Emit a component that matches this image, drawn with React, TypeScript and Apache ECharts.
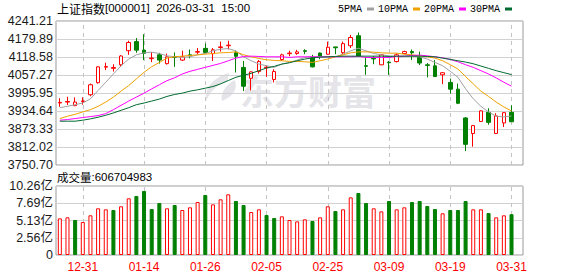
import React, { useEffect, useRef } from 'react';
import * as echarts from 'echarts';

const dates = ['12-26','12-29','12-30','12-31','01-05','01-06','01-07','01-08','01-09','01-12','01-13','01-14','01-15','01-16','01-19','01-20','01-21','01-22','01-23','01-26','01-27','01-28','01-29','01-30','02-02','02-03','02-04','02-05','02-06','02-09','02-10','02-11','02-12','02-13','02-24','02-25','02-26','02-27','03-02','03-03','03-04','03-05','03-06','03-09','03-10','03-11','03-12','03-13','03-16','03-17','03-18','03-19','03-20','03-23','03-24','03-25','03-26','03-27','03-30','03-31'];

const tickDates = ['12-31','01-14','01-26','02-05','02-25','03-09','03-19','03-31'];

const opens = [3962,3965,3953,3967,3990,4031,4084,4080,4092,4140, 4171,4142,4113,4126,4096,4120,4108,4126,4135,4148, 4130,4151,4157,4133,4083,4046,4069,4082,4042,4110, 4130,4130.5,4140,4117,4132,4128,4153,4133,4157,4191, 4089,4114,4092,4101,4103,4130.5,4137,4117,4092,4088.5, 4058,4032,4009,3911,3858,3899,3930,3858,3894,3930];
const closes = [3964,3967,3965,3969,4024,4085,4086,4083,4122,4168, 4142,4131,4115,4108,4119,4117,4119,4123,4137,4134, 4143,4153,4159,4121,4019,4068,4103,4084,4069,4126, 4132,4136,4138,4085,4121,4152,4150,4164,4185,4122, 4087,4112,4126,4099,4126,4137,4133,4098,4090,4052, 4065,4009,3961,3821,3885,3935,3896,3918,3929,3898];
const lows = [3949,3955,3951,3956,3985,4028,4074,4069,4085,4126, 4133,4108,4101,4096,4093,4085,4105,4114,4128,4130, 4105,4137,4144,4066,4003,4005,4062,4051,4032,4105, 4121,4126,4128,4083,4111,4127,4128,4128,4149,4119, 4058,4094,4091,4058,4100,4128,4108,4091,4049,4051, 4026,3994,3958,3798,3813,3897,3888,3856,3880,3897];
const highs = [3978,3983,3981,3981,4028,4087,4099,4094,4125,4174, 4183,4196,4135,4133,4130,4134,4140,4144,4149,4165, 4149,4171,4174,4140,4105,4069,4108,4089,4077,4130, 4140,4143,4145,4126,4134,4171,4153,4171,4194,4202, 4117,4122,4128,4105,4131,4140,4144,4137,4098,4108, 4067,4045,4028,3914,3886,3937,3944,3927,3931,3954];

const ma5 = [3946,3950.5,3956,3962,3976,4004.5,4032.6,4060.8,4088.9,4111.4, 4126,4132.8,4135,4130.5,4122.6,4119.3,4117,4119.3,4126,4130.5, 4139.5,4145,4147.4,4139.5,4119.3,4105.8,4094.5,4088.9,4083.3,4094.5, 4100,4108,4117,4119.3,4119.3,4117,4119.3,4128.3,4139.5,4148.5, 4139.5,4130.5,4126,4122.6,4119.3,4120.4,4121.5,4119.3,4111.4,4100.1, 4088.9,4069.8,4049.5,4010.1,3976.4,3950.5,3931.4,3916.8,3914.5,3917.9];
const ma10 = [3908.9,3916.8,3923.5,3931.4,3939.3,3950.5,3965.1,3982,4002.3,4021.4, 4043.9,4066.4,4085.5,4100.1,4114.8,4119.3,4121.5,4123.8,4126,4128.3, 4130.5,4132.8,4133.9,4136.1,4126,4119.3,4113.6,4109.1,4106.9,4105.8, 4103.5,4103.5,4102.4,4100.1,4105.8,4111.4,4119.3,4126,4132.8,4136.1, 4136.1,4135,4132.8,4131.6,4131.6,4128.3,4126,4122.6,4119.3,4114.8, 4105.8,4092.3,4077.6,4051.8,4027,4002.3,3984.3,3965.1,3948.3,3934.8];
const ma20 = [3903.3,3905.5,3908.9,3912.3,3915.6,3919,3925.8,3939.3,3953.9,3968.5, 3982,3995.5,4010.1,4024,4038,4048,4060.8,4069.8,4076.5,4083.3, 4090,4096.8,4105.8,4114.8,4120.4,4121.5,4120.4,4119.3,4119.3,4119.3, 4117,4119.3,4119.3,4119.3,4119.3,4119.3,4119.3,4119.3,4119.3,4120.4, 4117,4117,4117,4117,4120.4,4121.5,4123.8,4124.9,4122.6,4119.3, 4115.9,4110.3,4102.4,4092.3,4083.3,4072,4060.8,4047.3,4032.6,4019.1];
const ma30 = [3899.9,3899.9,3899.9,3903.3,3907.8,3913.4,3920.1,3928,3937,3946, 3956.1,3961.8,3968.5,3975.3,3984.3,3991,3995.5,4002.3,4006.8,4012.4, 4018,4027,4038.3,4049.5,4056.3,4063,4072,4081,4086.6,4094.5, 4099,4105.8,4111.4,4115.9,4118.1,4119.3,4120.4,4121.5,4121.5,4121.5, 4121.5,4121.5,4121.5,4120.4,4121.5,4121.5,4121.5,4121.5,4120.4,4119.3, 4114.8,4110.3,4105.8,4101.3,4095.6,4087.8,4079.9,4072,4065.3,4058.5];

// volume in 亿 (1e8)
const volumes = [5.45,5.6,5.2,4.9,5.9,6.94,6.79,6.69,7.24,8.43, 8.77,9.52,6.84,7.73,6.94,7.43,6.69,7.09,7.88,8.92, 7.53,8.28,9.02,8.03,7.43,6.39,6.79,5.95,5.5,5.75, 5.2,5.0,5.3,5.06,5.6,7.24,6.54,6.79,8.57,9.22, 7.73,6.94,6.49,8.03,6.79,7.09,7.88,8.03,7.29,6.84, 6.2,6.69,6.69,8.03,6.79,6.79,6.24,5.6,5.9,6.07];
// 1 = rose vs previous close (red hollow), 0 = fell (green solid)
const volumeUp = [1,1,0,1,1,1,1,0,1,1, 0,0,0,0,1,0,1,1,1,0, 1,1,1,0,0,1,1,0,0,1, 1,1,1,0,1,1,0,1,1,0, 0,1,1,0,1,1,0,0,0,0, 1,0,0,0,1,1,0,1,1,0];

const priceTicks = ['3750.70','3812.02','3873.33','3934.64','3995.95','4057.27','4118.58','4179.89','4241.21'];
const priceMin = 3750.70;
const priceMax = 4241.21;
const volTicks = ['0','2.56亿','5.13亿','7.69亿','10.26亿'];
const volMax = 10.26;

const maNames = ['5PMA','10PMA','20PMA','30PMA'];
const maColors = ['#a0a0a0','#f0a000','#ff00ff','#006b30'];
const maData = [ma5, ma10, ma20, ma30];

const titleName = '上证指数';
const titleRest = '[000001]  2026-03-31  15:00';
const volumeLabel = '成交量';
const volumeValue = '606704983';

const RED = '#ff0000';
const GREEN = '#008000';

export default function App() {
  const ref = useRef<HTMLDivElement>(null);
  useEffect(() => {
    document.body.style.margin = '0';
    if (!ref.current) return;
    echarts.graphic.registerShape(
      'emlogo',
      echarts.graphic.extendPath(
        'M26 0 C12 4 2 14 4 28 C8 18 14 12 24 8 Z M31 7 C23 12 17 20 19 28 C29 24 35 16 31 7 Z',
        {}
      )
    );
    const chart = echarts.init(ref.current, null, { renderer: 'svg' });
    const cats = [...dates, ''];
    const pInt = (priceMax - priceMin) / 8;
    const vInt = volMax / 4;
    const candleData = opens.map((o, i) => [o, closes[i], lows[i], highs[i]]);
    const volData = volumes.map((v, i) => ({
      value: v,
      itemStyle: volumeUp[i]
        ? { color: '#ffffff', borderColor: RED, borderWidth: 1 }
        : { color: GREEN, borderColor: GREEN, borderWidth: 1 },
    }));
    const dashMark = {
      silent: true,
      z: 1,
      symbol: ['none', 'none'],
      label: { show: false },
      lineStyle: { type: [4, 4], color: '#c4c4c4', width: 1 },
      data: tickDates.map((d) => ({ xAxis: d })),
    };
    const fontSans = '"Liberation Sans", Arial, sans-serif';
    const option: any = {
      animation: false,
      grid: [
        { left: 56, right: 55, top: 21, height: 144, show: true, borderColor: '#999', borderWidth: 1 },
        { left: 56, right: 55, top: 186, height: 69, show: true, borderColor: '#999', borderWidth: 1 },
      ],
      legend: {
        data: maNames,
        right: 66,
        top: 4,
        padding: 0,
        align: 'right',
        icon: 'rect',
        itemWidth: 7,
        itemHeight: 3,
        itemGap: 4,
        textStyle: { fontFamily: '"Liberation Mono", monospace', fontSize: 10, color: '#000' },
      },
      xAxis: [
        {
          type: 'category', gridIndex: 0, data: cats, boundaryGap: true,
          axisLabel: { show: false }, axisTick: { show: false }, axisLine: { show: false }, splitLine: { show: false },
        },
        {
          type: 'category', gridIndex: 1, data: cats, boundaryGap: true,
          axisLabel: {
            interval: (_i: number, v: string) => tickDates.includes(v),
            color: RED, fontSize: 12, margin: 6, fontFamily: fontSans,
          },
          axisTick: { show: false }, axisLine: { show: false }, splitLine: { show: false },
        },
      ],
      yAxis: [
        {
          type: 'value', gridIndex: 0, min: priceMin, max: priceMax, interval: pInt,
          axisLabel: {
            formatter: (v: number) => priceTicks[Math.round((v - priceMin) / pInt)],
            fontSize: 12.5, color: '#1a1a1a', margin: 3, fontFamily: fontSans,
          },
          axisLine: { show: false }, axisTick: { show: false },
          splitLine: { lineStyle: { color: '#d2d2d2', width: 1 } },
        },
        {
          type: 'value', gridIndex: 1, min: 0, max: volMax, interval: vInt,
          axisLabel: {
            formatter: (v: number) => volTicks[Math.round(v / vInt)],
            fontSize: 12.5, color: '#1a1a1a', margin: 3, fontFamily: fontSans + ', "Noto Sans CJK SC"',
          },
          axisLine: { show: false }, axisTick: { show: false },
          splitLine: { lineStyle: { color: '#d2d2d2', width: 1 } },
        },
      ],
      graphic: [
        {
          type: 'emlogo', x: 202, y: 73, scaleX: 1.05, scaleY: 1.0, z: -10, silent: true,
          style: { fill: '#e4e4e9' },
        },
        {
          type: 'text', left: 240, top: 73, z: -10, silent: true,
          style: { text: '东方财富', font: 'bold 34px "Noto Sans CJK SC"', fill: '#e4e4e9' },
        },
        {
          type: 'text', left: 57, top: 2,
          style: {
            text: `{c|${titleName}}{a|${titleRest}}`,
            rich: {
              c: { fontSize: 12, fontFamily: 'Noto Sans CJK SC', fill: '#000' },
              a: { fontSize: 11.5, fontFamily: 'Liberation Sans', fill: '#000' },
            },
          },
        },
        {
          type: 'text', left: 57, top: 171,
          style: {
            text: `{c|${volumeLabel}}{a|:${volumeValue}}`,
            rich: {
              c: { fontSize: 11.5, fontFamily: 'Noto Sans CJK SC', fill: '#000' },
              a: { fontSize: 11.5, fontFamily: 'Liberation Sans', fill: '#000' },
            },
          },
        },
      ],
      series: [
        {
          name: 'grid0', type: 'line', xAxisIndex: 0, yAxisIndex: 0, data: closes,
          symbol: 'none', lineStyle: { opacity: 0 }, silent: true, z: 1, markLine: dashMark,
        },
        {
          name: 'grid1', type: 'line', xAxisIndex: 1, yAxisIndex: 1, data: volumes,
          symbol: 'none', lineStyle: { opacity: 0 }, silent: true, z: 1, markLine: dashMark,
        },
        {
          name: 'K', type: 'candlestick', xAxisIndex: 0, yAxisIndex: 0, data: candleData,
          barWidth: 4, z: 3,
          itemStyle: { color: '#ffffff', color0: GREEN, borderColor: RED, borderColor0: GREEN, borderWidth: 1 },
        },
        ...maNames.map((n, k) => ({
          name: n, type: 'line', xAxisIndex: 0, yAxisIndex: 0, data: maData[k],
          symbol: 'none', showSymbol: false, color: maColors[k], z: 4,
          lineStyle: { width: 1, color: maColors[k] },
        })),
        {
          name: 'VOL', type: 'bar', xAxisIndex: 1, yAxisIndex: 1, data: volData, barWidth: 4, z: 3,
        },
      ],
    };
    chart.setOption(option);
    return () => chart.dispose();
  }, []);
  return <div ref={ref} style={{ width: 578, height: 276 }} />;
}
